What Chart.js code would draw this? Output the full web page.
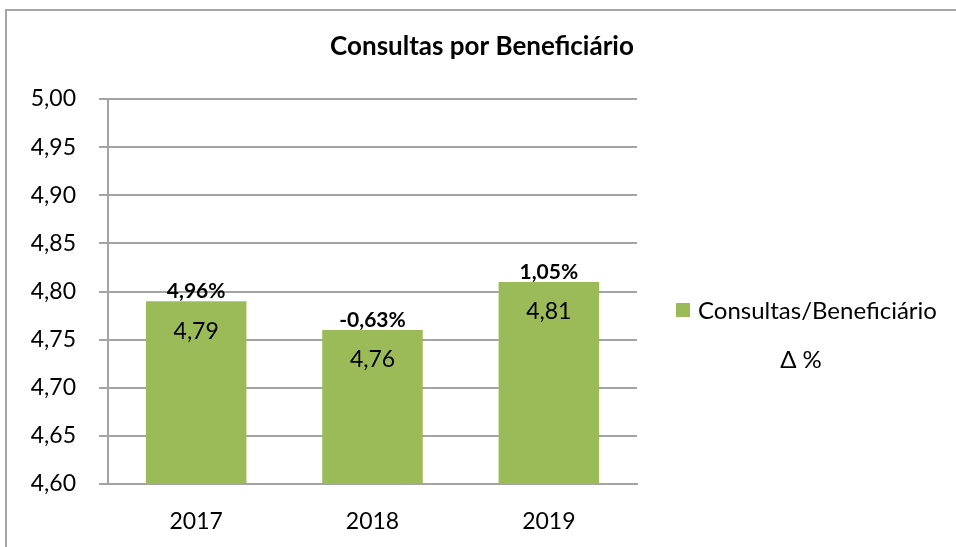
<!DOCTYPE html>
<html><head><meta charset="utf-8">
<script src="https://cdn.jsdelivr.net/npm/chart.js@4"></script>
<style>html,body{margin:0;padding:0;background:#fff;overflow:hidden}</style>
</head><body>
<canvas id="c" width="956" height="547"></canvas>
<script>
const categories = ['2017', '2018', '2019'];
const consultas = [4.79, 4.76, 4.81];
const deltas = [4.96, -0.63, 1.05];
const yTicks = [4.60, 4.65, 4.70, 4.75, 4.80, 4.85, 4.90, 4.95, 5.00];
const chartTitle = 'Consultas por Beneficiário';
const seriesNames = ['Consultas/Beneficiário', 'Δ %'];

const FONT = 'Lato, "Noto Sans", sans-serif';
const GREEN = '#9BBB59';
const GRID = '#A3A3A3';
const fmt = (v, d) => v.toFixed(d).replace('.', ',');

const decor = {
  id: 'decor',
  afterDatasetsDraw(chart) {
    const ctx = chart.ctx;
    const meta = chart.getDatasetMeta(0);
    ctx.save();
    ctx.fillStyle = '#000';
    ctx.textAlign = 'center';
    meta.data.forEach((bar, i) => {
      ctx.font = '23px ' + FONT;
      ctx.textBaseline = 'middle';
      ctx.fillText(fmt(consultas[i], 2), bar.x, bar.y + 30);
      ctx.font = 'bold 21px ' + FONT;
      ctx.textBaseline = 'alphabetic';
      ctx.fillText(fmt(deltas[i], 2) + '%', bar.x, bar.y - 3);
    });
    ctx.restore();
  },
  afterDraw(chart) {
    const ctx = chart.ctx;
    ctx.save();
    ctx.strokeStyle = '#A6A6A6';
    ctx.lineWidth = 2;
    ctx.strokeRect(6, 10, 1200, 1200);
    ctx.fillStyle = '#000';
    ctx.font = 'bold 26px ' + FONT;
    ctx.textAlign = 'center';
    ctx.textBaseline = 'middle';
    ctx.fillText(chartTitle, 482, 47);
    ctx.fillStyle = GREEN;
    ctx.fillRect(676, 303, 14, 14);
    ctx.fillStyle = '#000';
    ctx.font = '24px ' + FONT;
    ctx.textAlign = 'left';
    ctx.fillText(seriesNames[0], 698, 311);
    ctx.textAlign = 'center';
    ctx.fillText(seriesNames[1], 801, 360);
    ctx.restore();
  }
};

new Chart(document.getElementById('c'), {
  type: 'bar',
  data: {
    labels: categories,
    datasets: [{
      label: seriesNames[0],
      data: consultas,
      backgroundColor: GREEN,
      borderWidth: 0,
      categoryPercentage: 1,
      barPercentage: 0.57
    }]
  },
  options: {
    responsive: false,
    devicePixelRatio: 1,
    animation: false,
    layout: { padding: { top: 99, right: 319, left: 0, bottom: 0 } },
    plugins: {
      legend: { display: false },
      title: { display: false },
      tooltip: { enabled: false }
    },
    scales: {
      x: {
        grid: { display: false },
        border: { display: true, color: GRID, width: 2 },
        ticks: { color: '#000', font: { family: FONT, size: 23 }, padding: 16 },
        afterFit(s) { s.height = 63; }
      },
      y: {
        min: 4.6,
        max: 5.0,
        afterBuildTicks(s) { s.ticks = yTicks.map(v => ({ value: v })); },
        grid: { color: GRID, lineWidth: 2, tickLength: 9, drawTicks: true },
        border: { display: true, color: GRID, width: 2 },
        ticks: {
          color: '#000',
          font: { family: FONT, size: 23 },
          padding: 23,
          callback: v => fmt(v, 2)
        },
        afterFit(s) { s.width = 108; }
      }
    }
  },
  plugins: [decor]
});
</script>
</body></html>
